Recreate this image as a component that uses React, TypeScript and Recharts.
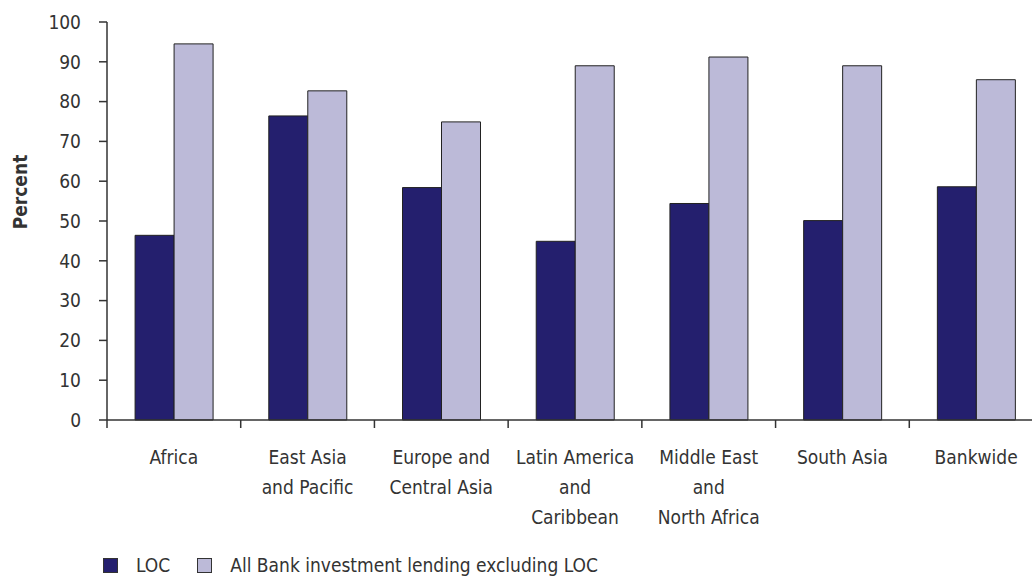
import React from 'react';
import { BarChart, Bar, XAxis, YAxis, Legend, Label } from 'recharts';

const categories = [
  'Africa',
  'East Asia\nand Pacific',
  'Europe and\nCentral Asia',
  'Latin America\nand\nCaribbean',
  'Middle East\nand\nNorth Africa',
  'South Asia',
  'Bankwide',
];
const locValues = [46.4, 76.4, 58.4, 44.9, 54.4, 50.1, 58.6];
const allBankValues = [94.5, 82.7, 74.9, 89.0, 91.2, 89.0, 85.5];
const yTicks = [0, 10, 20, 30, 40, 50, 60, 70, 80, 90, 100];

const seriesNames = ['LOC', 'All Bank investment lending excluding LOC'];
const colors = ['#241f6e', '#bcbad8'];

const FONT = '"Liberation Sans Narrow", "DejaVu Sans Condensed", "Liberation Sans", sans-serif';
const TEXT = '#333';
const FS = 19;

const data = categories.map((name, i) => ({
  name,
  loc: locValues[i],
  all: allBankValues[i],
}));

// category label with tick marks on the band edges
const CategoryTick = (props: any) => {
  const { x, y, payload, index, width } = props;
  const half = width / categories.length / 2;
  const lines = String(payload.value).split('\n');
  return (
    <g>
      <line x1={x - half} x2={x - half} y1={y - 8} y2={y} stroke={TEXT} strokeWidth={1.5} />
      {index === categories.length - 1 && (
        <line x1={x + half} x2={x + half} y1={y - 8} y2={y} stroke={TEXT} strokeWidth={1.5} />
      )}
      <text textAnchor="middle" fontFamily={FONT} fontSize={FS} fill={TEXT}>
        {lines.map((l, i) => (
          <tspan key={i} x={x} y={y + 36 + i * 30}>{l}</tspan>
        ))}
      </text>
    </g>
  );
};

const LegendContent = () => (
  <div style={{ display: 'flex', alignItems: 'center', fontFamily: FONT, fontSize: FS, color: TEXT, height: 24 }}>
    {seriesNames.map((n, i) => (
      <div key={n} style={{ display: 'flex', alignItems: 'center', marginRight: 27 }}>
        <span style={{ width: 13, height: 13, background: colors[i], border: `1px solid ${TEXT}`, marginRight: 18 }} />
        <span>{n}</span>
      </div>
    ))}
  </div>
);

export default function App() {
  return (
    <div style={{ position: 'absolute', left: 0, top: 0, width: 1032, height: 577, overflow: 'hidden', background: '#fff' }}>
      <BarChart
        width={1043}
        height={577}
        data={data}
        margin={{ top: 22, right: 0, bottom: 0, left: 0 }}
        barCategoryGap="21%"
        barGap={0}
      >
        <YAxis
          type="number"
          domain={[0, 100]}
          ticks={yTicks}
          width={107}
          interval={0}
          tickSize={8}
          tickMargin={18}
          axisLine={{ stroke: TEXT, strokeWidth: 1.5 }}
          tickLine={{ stroke: TEXT, strokeWidth: 1.5 }}
          tick={{ fontFamily: FONT, fontSize: FS, fill: TEXT }}
        >
          <Label
            content={() => (
              <text
                x={27}
                y={192}
                transform="rotate(-90, 27, 192)"
                textAnchor="middle"
                fontFamily={FONT}
                fontWeight="bold"
                fontSize={19}
                fill={TEXT}
              >
                Percent
              </text>
            )}
          />
        </YAxis>
        <XAxis
          dataKey="name"
          height={133}
          interval={0}
          tickSize={8}
          tickMargin={0}
          tickLine={false}
          axisLine={{ stroke: TEXT, strokeWidth: 1.5 }}
          tick={<CategoryTick />}
        />
        <Legend
          verticalAlign="bottom"
          align="left"
          content={<LegendContent />}
          wrapperStyle={{ left: 103, bottom: 0, width: 'auto' }}
        />
        <Bar dataKey="loc" name={seriesNames[0]} fill={colors[0]} stroke="#222" strokeWidth={1} isAnimationActive={false} />
        <Bar dataKey="all" name={seriesNames[1]} fill={colors[1]} stroke="#222" strokeWidth={1} isAnimationActive={false} />
      </BarChart>
    </div>
  );
}
